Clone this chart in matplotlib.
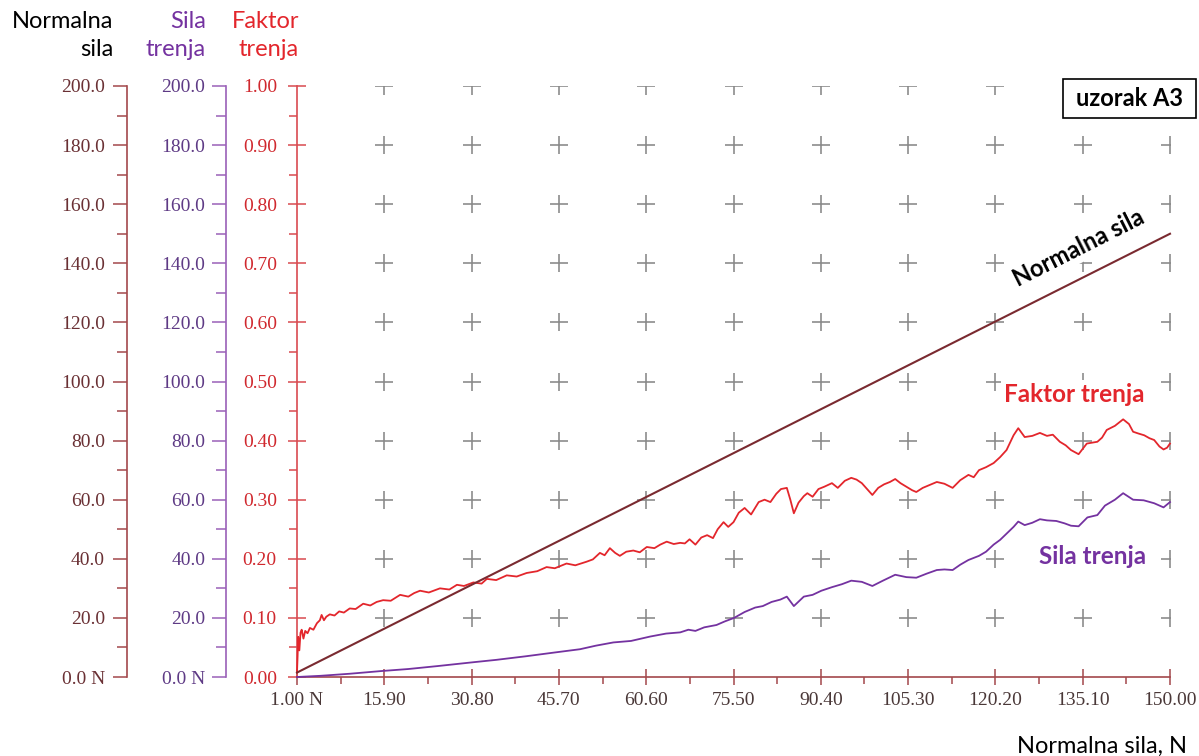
import matplotlib
matplotlib.use("Agg")
import matplotlib.pyplot as plt
from matplotlib.ticker import FixedLocator, FuncFormatter
from matplotlib.patches import Rectangle

# ---------------- data ----------------
x_ticks = [1.00, 15.90, 30.80, 45.70, 60.60, 75.50, 90.40, 105.30, 120.20, 135.10, 150.00]
x_tick_labels = ["1.00 N", "15.90", "30.80", "45.70", "60.60", "75.50", "90.40",
                 "105.30", "120.20", "135.10", "150.00"]
force_ticks = [0, 20, 40, 60, 80, 100, 120, 140, 160, 180, 200]
coef_ticks = [0.0, 0.1, 0.2, 0.3, 0.4, 0.5, 0.6, 0.7, 0.8, 0.9, 1.0]

normal_x = [1.0, 150.0]
normal_y = [1.5, 150.0]

faktor_x = [1.0, 1.1, 1.2, 1.4, 1.6, 1.8, 2.1, 2.4, 2.8, 3.2, 3.8, 4.4, 4.9, 5.2, 5.6, 6.0,
            6.6, 7.4, 8.2, 9.0, 10.0, 11.0, 12.3, 13.5, 14.6, 15.7, 17.0, 18.6, 20.0, 21.0,
            22.0, 23.5, 25.4, 27.0, 28.3, 29.5, 31.1, 32.5, 33.4, 35.0, 36.8, 38.5, 40.2,
            42.0, 43.6, 45.0, 47.0, 48.5, 50.4, 51.5, 52.7, 53.5, 54.4, 55.3, 56.1, 57.2,
            58.4, 59.5, 60.7, 62.0, 63.0, 64.1, 65.3, 66.4, 67.2, 68.0, 69.0, 70.0, 71.0,
            72.0, 72.8, 73.8, 74.6, 75.5, 76.4, 77.4, 78.5, 79.8, 80.8, 81.8, 82.8, 83.6,
            84.6, 85.2, 85.8, 86.6, 87.5, 88.1, 89.0, 90.0, 91.0, 92.3, 93.3, 94.5, 95.6,
            96.5, 97.4, 98.3, 99.2, 100.2, 101.2, 102.2, 103.1, 104.0, 105.0, 106.0, 106.7,
            107.8, 109.0, 110.2, 111.5, 112.9, 114.2, 115.6, 116.5, 117.4, 118.6, 119.9,
            121.0, 122.1, 123.3, 124.1, 125.2, 126.5, 127.8, 129.0, 130.0, 131.2, 132.2,
            133.1, 134.4, 135.8, 137.6, 138.4, 139.2, 140.6, 142.0, 143.0, 143.7, 144.6,
            145.6, 146.5, 147.3, 148.2, 148.9, 149.5, 150.0]
faktor_y = [0.008, 0.035, 0.068, 0.045, 0.075, 0.080, 0.065, 0.078, 0.074, 0.083, 0.080,
            0.091, 0.096, 0.105, 0.096, 0.102, 0.106, 0.104, 0.111, 0.109, 0.116, 0.115,
            0.124, 0.121, 0.127, 0.130, 0.129, 0.139, 0.136, 0.142, 0.146, 0.143, 0.150,
            0.148, 0.156, 0.154, 0.160, 0.158, 0.166, 0.164, 0.172, 0.170, 0.176, 0.179,
            0.186, 0.184, 0.192, 0.189, 0.195, 0.199, 0.210, 0.206, 0.218, 0.210, 0.205,
            0.212, 0.214, 0.211, 0.220, 0.218, 0.224, 0.229, 0.225, 0.227, 0.226, 0.233,
            0.224, 0.236, 0.240, 0.235, 0.250, 0.262, 0.254, 0.262, 0.278, 0.286, 0.275,
            0.296, 0.300, 0.296, 0.310, 0.318, 0.320, 0.300, 0.277, 0.295, 0.306, 0.311,
            0.305, 0.318, 0.322, 0.328, 0.320, 0.332, 0.337, 0.334, 0.328, 0.318, 0.308,
            0.320, 0.326, 0.330, 0.335, 0.328, 0.322, 0.316, 0.313, 0.320, 0.325, 0.330,
            0.327, 0.320, 0.333, 0.342, 0.338, 0.350, 0.355, 0.362, 0.372, 0.384, 0.409,
            0.421, 0.406, 0.408, 0.413, 0.408, 0.410, 0.398, 0.392, 0.384, 0.377, 0.395,
            0.398, 0.405, 0.418, 0.425, 0.436, 0.428, 0.415, 0.412, 0.409, 0.404, 0.401,
            0.390, 0.385, 0.388, 0.395]

sila_x = [1.0, 5.0, 10.0, 15.3, 20.0, 25.0, 31.1, 35.0, 40.0, 45.0, 49.3, 52.0, 55.0, 58.0,
          61.3, 64.0, 66.4, 67.8, 69.0, 70.5, 72.6, 74.0, 75.6, 77.4, 79.2, 80.5, 82.0,
          83.5, 84.6, 85.8, 87.5, 89.0, 90.5, 92.3, 94.0, 95.6, 97.4, 99.2, 101.0, 103.1,
          105.0, 106.7, 108.5, 110.2, 111.5, 112.9, 114.2, 115.6, 117.4, 118.6, 119.9,
          121.0, 122.1, 123.3, 124.1, 125.2, 126.5, 127.8, 129.0, 130.6, 132.0, 133.1,
          134.4, 135.9, 137.6, 138.9, 140.6, 142.0, 143.7, 145.5, 147.3, 148.9, 150.0]
sila_y = [0.0, 0.4, 1.1, 2.0, 2.7, 3.7, 5.0, 5.8, 7.0, 8.3, 9.4, 10.6, 11.7, 12.2, 13.7,
          14.7, 15.1, 16.0, 15.6, 16.8, 17.6, 18.8, 20.0, 22.0, 23.5, 24.0, 25.4, 26.2,
          27.2, 24.0, 27.2, 27.8, 29.2, 30.4, 31.4, 32.6, 32.2, 30.8, 32.6, 34.6, 33.8,
          33.6, 35.0, 36.2, 36.4, 36.2, 38.0, 39.6, 41.0, 42.4, 44.8, 46.4, 48.5, 50.8,
          52.6, 51.4, 52.2, 53.4, 53.0, 52.8, 52.0, 51.2, 51.0, 54.0, 54.8, 58.0, 60.0,
          62.2, 60.0, 59.8, 58.8, 57.4, 59.2]

# ---------------- style ----------------
W, H = 1199, 756
SERIF = ["Liberation Serif", "DejaVu Serif"]
SANS = ["Lato", "Open Sans", "DejaVu Sans"]

C_NORMAL_LINE = "#7a2a30"
C_NORMAL_AX = "#a3484c"
C_NORMAL_LBL = "#6a3034"
C_SILA_LINE = "#7432a0"
C_SILA_AX = "#9a60b8"
C_SILA_LBL = "#5e3a85"
C_FAK_LINE = "#e3262c"
C_FAK_AX = "#d94a50"
C_FAK_LBL = "#d0282e"
C_XLBL = "#4a3838"
C_GRID = "#8c8c8c"

fig = plt.figure(figsize=(W / 100, H / 100), dpi=100)
fig.patch.set_facecolor("white")

left, right, top, bottom = 297, 1170, 86, 677
rect = [left / W, 1 - bottom / H, (right - left) / W, (bottom - top) / H]


def px(x, y):
    return x / W, 1 - y / H


# main axes: Faktor trenja (0..1)
ax = fig.add_axes(rect)
ax.set_facecolor("white")
ax.set_xlim(x_ticks[0], x_ticks[-1])
ax.set_ylim(coef_ticks[0], coef_ticks[-1])
for s in ("top", "right"):
    ax.spines[s].set_visible(False)
ax.spines["left"].set_color(C_FAK_AX)
ax.spines["left"].set_linewidth(1.2)
ax.spines["bottom"].set_color(C_NORMAL_AX)
ax.spines["bottom"].set_linewidth(1.2)

ax.xaxis.set_major_locator(FixedLocator(x_ticks))
ax.set_xticklabels(x_tick_labels)
x_minor = [(a + b) / 2 for a, b in zip(x_ticks[:-1], x_ticks[1:])]
ax.xaxis.set_minor_locator(FixedLocator(x_minor))
ax.tick_params(axis="x", which="major", direction="inout", length=11, width=1.1,
               color=C_NORMAL_AX, labelcolor=C_XLBL, labelsize=14, pad=5)
ax.tick_params(axis="x", which="minor", direction="out", length=5, width=1.1,
               color=C_NORMAL_AX)

ax.yaxis.set_major_locator(FixedLocator(coef_ticks))
ax.yaxis.set_major_formatter(FuncFormatter(lambda v, p: f"{v:.2f}"))
y_minor = [(a + b) / 2 for a, b in zip(coef_ticks[:-1], coef_ticks[1:])]
ax.yaxis.set_minor_locator(FixedLocator(y_minor))
ax.tick_params(axis="y", which="major", direction="inout", length=13, width=1.1,
               color=C_FAK_AX, labelcolor=C_FAK_LBL, labelsize=14, pad=8)
ax.tick_params(axis="y", which="minor", direction="out", length=6, width=1.1,
               color=C_FAK_AX)
for lab in ax.get_xticklabels() + ax.get_yticklabels():
    lab.set_family(SERIF)

# grid of "+" markers
gx, gy = [], []
for xv in x_ticks[1:]:
    for yv in coef_ticks[1:]:
        gx.append(xv)
        gy.append(yv)
ax.plot(gx, gy, linestyle="none", marker="+", markersize=12.5, markeredgewidth=1.2,
        color=C_GRID, zorder=1)


def extra_axis(offset_px, spine_col, lbl_col, pad):
    a = fig.add_axes(rect)
    a.patch.set_visible(False)
    a.set_xlim(x_ticks[0], x_ticks[-1])
    a.set_ylim(force_ticks[0], force_ticks[-1])
    for s in ("top", "right", "bottom"):
        a.spines[s].set_visible(False)
    a.spines["left"].set_position(("axes", (offset_px - left) / (right - left)))
    a.spines["left"].set_color(spine_col)
    a.spines["left"].set_linewidth(1.2)
    a.set_xticks([])
    a.yaxis.set_major_locator(FixedLocator(force_ticks))
    a.yaxis.set_major_formatter(
        FuncFormatter(lambda v, p: "0.0 N" if v == 0 else f"{v:.1f}"))
    ym = [(p + q) / 2 for p, q in zip(force_ticks[:-1], force_ticks[1:])]
    a.yaxis.set_minor_locator(FixedLocator(ym))
    a.tick_params(axis="y", which="major", direction="out", length=10, width=1.1,
                  color=spine_col, labelcolor=lbl_col, labelsize=14, pad=pad)
    a.tick_params(axis="y", which="minor", direction="out", length=7, width=1.1,
                  color=spine_col)
    for lab in a.get_yticklabels():
        lab.set_family(SERIF)
    return a


axN = extra_axis(127, C_NORMAL_AX, C_NORMAL_LBL, 6)
axS = extra_axis(226, C_SILA_AX, C_SILA_LBL, 5)

# data lines
axN.plot(normal_x, normal_y, color=C_NORMAL_LINE, linewidth=1.5, clip_on=False)
axS.plot(sila_x, sila_y, color=C_SILA_LINE, linewidth=1.3, clip_on=False)
ax.plot(faktor_x, faktor_y, color=C_FAK_LINE, linewidth=1.3, zorder=3, clip_on=False)

# headers
HS = 17
fig.text(*px(113, 22), "Normalna", ha="right", va="center", fontsize=HS,
         family=SANS, color="black")
fig.text(*px(113, 50), "sila", ha="right", va="center", fontsize=HS,
         family=SANS, color="black")
fig.text(*px(206, 22), "Sila", ha="right", va="center", fontsize=HS,
         family=SANS, color=C_SILA_LINE)
fig.text(*px(206, 50), "trenja", ha="right", va="center", fontsize=HS,
         family=SANS, color=C_SILA_LINE)
fig.text(*px(299, 22), "Faktor", ha="right", va="center", fontsize=HS,
         family=SANS, color=C_FAK_LINE)
fig.text(*px(299, 50), "trenja", ha="right", va="center", fontsize=HS,
         family=SANS, color=C_FAK_LINE)

# in-plot labels (white background hides the grid marks behind them)
lbl_box = dict(boxstyle="square,pad=0.12", facecolor="white", edgecolor="none")
fig.text(*px(1079, 248), "Normalna sila", ha="center", va="center", fontsize=17,
         family=SANS, fontweight="bold", color="black", rotation=26.8,
         rotation_mode="anchor", bbox=lbl_box)
fig.text(*px(1074, 394), "Faktor trenja", ha="center", va="center", fontsize=17.5,
         family=SANS, fontweight="bold", color=C_FAK_LINE, bbox=lbl_box)
fig.text(*px(1093, 556), "Sila trenja", ha="center", va="center", fontsize=17.5,
         family=SANS, fontweight="bold", color=C_SILA_LINE, bbox=lbl_box)

# sample box
bx0, by0, bx1, by1 = 1063, 79, 1196, 118
fig.patches.append(Rectangle(px(bx0, by1), (bx1 - bx0) / W, (by1 - by0) / H,
                             transform=fig.transFigure, fill=True, facecolor="white",
                             edgecolor="black", linewidth=1.2, zorder=5))
fig.text(*px((bx0 + bx1) / 2, (by0 + by1) / 2), "uzorak A3", ha="center", va="center",
         fontsize=17, family=SANS, fontweight="bold", color="black", zorder=6)

# x axis title
fig.text(*px(1187, 746), "Normalna sila, N", ha="right", va="center", fontsize=17,
         family=SANS, color="black")

fig.savefig("out.png", dpi=100, facecolor="white")
